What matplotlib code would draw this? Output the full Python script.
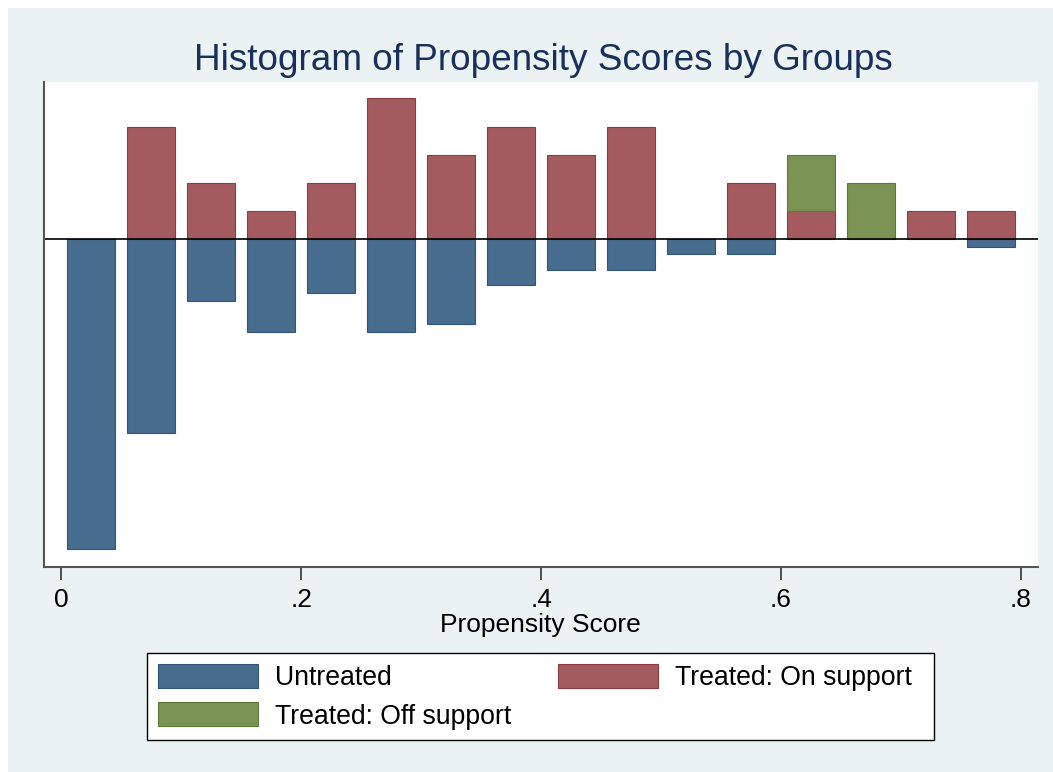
import numpy as np
import matplotlib.pyplot as plt
from matplotlib.patches import Rectangle

plt.rcParams['font.family'] = ['Liberation Sans', 'DejaVu Sans']

# бины по 0.05 от 0 до 0.8
bin_left = np.arange(0, 0.8, 0.05)
# частоты по группам
untreated = [40, 25, 8, 12, 7, 12, 11, 6, 4, 4, 2, 2, 0, 0, 0, 1]
treated_on = [0, 4, 2, 1, 2, 5, 3, 4, 3, 4, 0, 2, 1, 0, 1, 1]
treated_off = [0, 0, 0, 0, 0, 0, 0, 0, 0, 0, 0, 0, 2, 2, 0, 0]
xticks = [0, 0.2, 0.4, 0.6, 0.8]
xticklabels = ["0", ".2", ".4", ".6", ".8"]

width = 0.05
n_untr = sum(untreated)
n_tr = sum(treated_on) + sum(treated_off)
# плотности как в psgraph
d_untr = np.array(untreated) / (n_untr * width)
d_on = np.array(treated_on) / (n_tr * width)
d_off = np.array(treated_off) / (n_tr * width)

c_blue = '#476c8e'
c_red = '#a35b60'
c_green = '#7a9253'
bg = '#eaf2f3'

W, H = 1053, 772
fig = plt.figure(figsize=(W / 100, H / 100), dpi=100, facecolor='white')
# фон графика (белая полоска только сверху и слева)
fig.patches.append(Rectangle((8 / W, 0), 1 - 8 / W, 1 - 8 / H,
                             transform=fig.transFigure, facecolor=bg,
                             edgecolor='none', zorder=-10, clip_on=False))

ax = fig.add_axes([43.5 / W, 1 - 566.7 / H, (1037.7 - 43.5) / W, (566.7 - 82) / H])
centers = bin_left + width / 2
bw = 0.04

# рисуем только ненулевые столбцы, чтобы не было линий нулевой высоты
m = d_untr > 0
ax.bar(centers[m], -d_untr[m], width=bw, color=c_blue, edgecolor='#2f5678', linewidth=0.8, label='Untreated')
m = d_on > 0
ax.bar(centers[m], d_on[m], width=bw, color=c_red, edgecolor='#8e3a44', linewidth=0.8, label='Treated: On support')
m = d_off > 0
ax.bar(centers[m], d_off[m], width=bw, bottom=d_on[m], color=c_green, edgecolor='#5c7a36', linewidth=0.8,
       label='Treated: Off support')
ax.axhline(0, color='black', linewidth=1.2)

ax.set_xlim(-0.015, 0.814)
ax.set_ylim(-6.31, 3.02)
ax.set_yticks([])
ax.set_xticks(xticks)
ax.set_xticklabels(xticklabels, fontsize=19)
ax.tick_params(axis='x', length=9, width=1.2, color='#333333', pad=6)
for s in ['top', 'right']:
    ax.spines[s].set_visible(False)
for s in ['left', 'bottom']:
    ax.spines[s].set_color('#555555')
    ax.spines[s].set_linewidth(1.5)
ax.set_xlabel('Propensity Score', fontsize=19, labelpad=1)

fig.text(543 / W, 1 - 60 / H, 'Histogram of Propensity Scores by Groups', ha='center', va='center',
         fontsize=26.6, color='#1a2f5a')

# рамка легенды
fig.patches.append(Rectangle((147 / W, 1 - 740 / H), (934 - 147) / W, (740 - 653) / H,
                             transform=fig.transFigure, facecolor='white',
                             edgecolor='black', linewidth=1.0, zorder=1))

h, l = ax.get_legend_handles_labels()
order = [0, 2, 1]
leg = fig.legend([h[i] for i in order], [l[i] for i in order], ncol=2,
                 loc='upper left', bbox_to_anchor=(147 / W, 1 - 653 / H),
                 borderaxespad=0, fontsize=19.2, frameon=False,
                 handlelength=3.75, handleheight=1.0, handletextpad=0.62,
                 columnspacing=1.77, borderpad=0.42, labelspacing=0.42)
leg.set_zorder(5)

fig.savefig('out.png', dpi=100, facecolor='white')
